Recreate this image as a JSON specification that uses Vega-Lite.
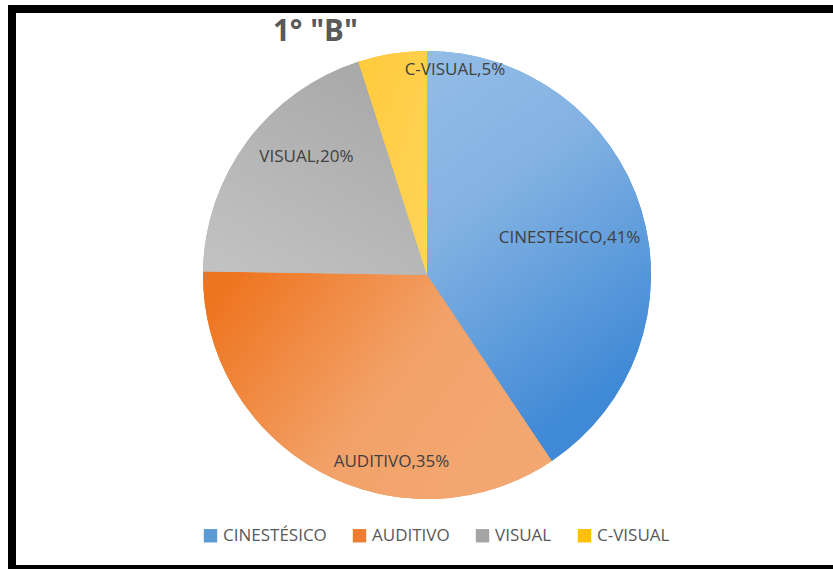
{
  "$schema": "https://vega.github.io/schema/vega-lite/v6.json",
  "autosize": {"type": "none"},
  "width": 821,
  "height": 560,
  "padding": {"left": 12, "top": 9, "right": 0, "bottom": 0},
  "background": "white",
  "config": {
    "view": {"stroke": null},
    "font": "Open Sans"
  },
  "title": {
    "text": "1° \"B\"",
    "anchor": "start",
    "dx": 269,
    "offset": -65,
    "baseline": "alphabetic",
    "font": "Open Sans",
    "fontSize": 29.5,
    "fontWeight": "bold",
    "color": "#595959"
  },
  "layer": [
    {
      "data": {
        "values": [
          {"categoria": "CINESTÉSICO", "valor": 41},
          {"categoria": "AUDITIVO", "valor": 35},
          {"categoria": "VISUAL", "valor": 20},
          {"categoria": "C-VISUAL", "valor": 5}
        ]
      },
      "transform": [
        {"calculate": "datum.categoria + ',' + datum.valor + '%'", "as": "etiqueta"}
      ],
      "encoding": {
        "theta": {"field": "valor", "type": "quantitative", "stack": true},
        "order": {"field": "valor", "type": "quantitative", "sort": "descending"}
      },
      "layer": [
        {
          "mark": {"type": "arc", "outerRadius": 224, "xOffset": 4.5, "yOffset": -14},
          "encoding": {
            "color": {
              "field": "categoria",
              "type": "nominal",
              "sort": ["CINESTÉSICO", "AUDITIVO", "VISUAL", "C-VISUAL"],
              "scale": {
                "domain": ["CINESTÉSICO", "AUDITIVO", "VISUAL", "C-VISUAL"],
                "range": ["#5B9BD5", "#ED7D31", "#A5A5A5", "#FFC000"]
              },
              "legend": {
                "title": null,
                "orient": "none",
                "direction": "horizontal",
                "legendX": 190,
                "legendY": 518,
                "symbolType": "square",
                "symbolSize": 180,
                "symbolStrokeWidth": 0,
                "labelFont": "Open Sans",
                "labelFontSize": 17,
                "labelColor": "#595959",
                "labelOffset": 4,
                "columnPadding": 24,
                "labelLimit": 300
              }
            }
          }
        },
        {
          "mark": {"type": "arc", "outerRadius": 224, "xOffset": 4.5, "yOffset": -14, "strokeWidth": 0},
          "encoding": {
            "fill": {
              "condition": [
                {"test": "datum.categoria === 'CINESTÉSICO'", "value": {"gradient": "linear", "x1": 0, "y1": 0, "x2": 0.4, "y2": 1, "stops": [{"offset": 0, "color": "#93BDE6"}, {"offset": 0.4, "color": "#83B2E2"}, {"offset": 1, "color": "#3F89D6"}]}},
                {"test": "datum.categoria === 'AUDITIVO'", "value": {"gradient": "linear", "x1": 0, "y1": 0.2, "x2": 1, "y2": 0.7, "stops": [{"offset": 0, "color": "#EE7520"}, {"offset": 0.55, "color": "#F2A269"}, {"offset": 1, "color": "#F3A872"}]}},
                {"test": "datum.categoria === 'VISUAL'", "value": {"gradient": "linear", "x1": 0.8, "y1": 0, "x2": 0.2, "y2": 1, "stops": [{"offset": 0, "color": "#A7A7A7"}, {"offset": 1, "color": "#C1C1C1"}]}}
              ],
              "value": {"gradient": "linear", "x1": 0, "y1": 0, "x2": 1, "y2": 1, "stops": [{"offset": 0, "color": "#FFCB3C"}, {"offset": 1, "color": "#FFD45A"}]}
            }
          }
        },
        {
          "mark": {"type": "text", "radius": 149, "xOffset": 4.5, "yOffset": -14, "dy": 6, "font": "Open Sans", "fontSize": 17, "color": "#404040"},
          "encoding": {
            "text": {"field": "etiqueta"},
            "opacity": {"condition": {"test": "datum.categoria === 'CINESTÉSICO'", "value": 1}, "value": 0}
          }
        },
        {
          "mark": {"type": "text", "radius": 200, "xOffset": 4.5, "yOffset": -14, "dx": 60, "dy": 11, "font": "Open Sans", "fontSize": 17, "color": "#404040"},
          "encoding": {
            "text": {"field": "etiqueta"},
            "opacity": {"condition": {"test": "datum.categoria === 'AUDITIVO'", "value": 1}, "value": 0}
          }
        },
        {
          "mark": {"type": "text", "radius": 170, "xOffset": 4.5, "yOffset": -14, "dx": 16, "dy": -17, "font": "Open Sans", "fontSize": 17, "color": "#404040"},
          "encoding": {
            "text": {"field": "etiqueta"},
            "opacity": {"condition": {"test": "datum.categoria === 'VISUAL'", "value": 1}, "value": 0}
          }
        },
        {
          "mark": {"type": "text", "radius": 207, "xOffset": 4.5, "yOffset": -14, "dx": 60, "dy": 0, "font": "Open Sans", "fontSize": 17, "color": "#404040"},
          "encoding": {
            "text": {"field": "etiqueta"},
            "opacity": {"condition": {"test": "datum.categoria === 'C-VISUAL'", "value": 1}, "value": 0}
          }
        }
      ]
    },
    {
      "data": {"values": [{"borde": "superior"}]},
      "mark": {"type": "rule", "color": "black", "strokeWidth": 8, "strokeCap": "butt"},
      "encoding": {"x": {"value": -4}, "x2": {"value": 821}, "y": {"value": 0}, "y2": {"value": 0}}
    },
    {
      "data": {"values": [{"borde": "izquierdo"}]},
      "mark": {"type": "rule", "color": "black", "strokeWidth": 8, "strokeCap": "butt"},
      "encoding": {"x": {"value": 0}, "x2": {"value": 0}, "y": {"value": 0}, "y2": {"value": 560}}
    },
    {
      "data": {"values": [{"borde": "inferior"}]},
      "mark": {"type": "rule", "color": "black", "strokeWidth": 4, "strokeCap": "butt"},
      "encoding": {"x": {"value": -4}, "x2": {"value": 821}, "y": {"value": 558}, "y2": {"value": 558}}
    }
  ]
}
